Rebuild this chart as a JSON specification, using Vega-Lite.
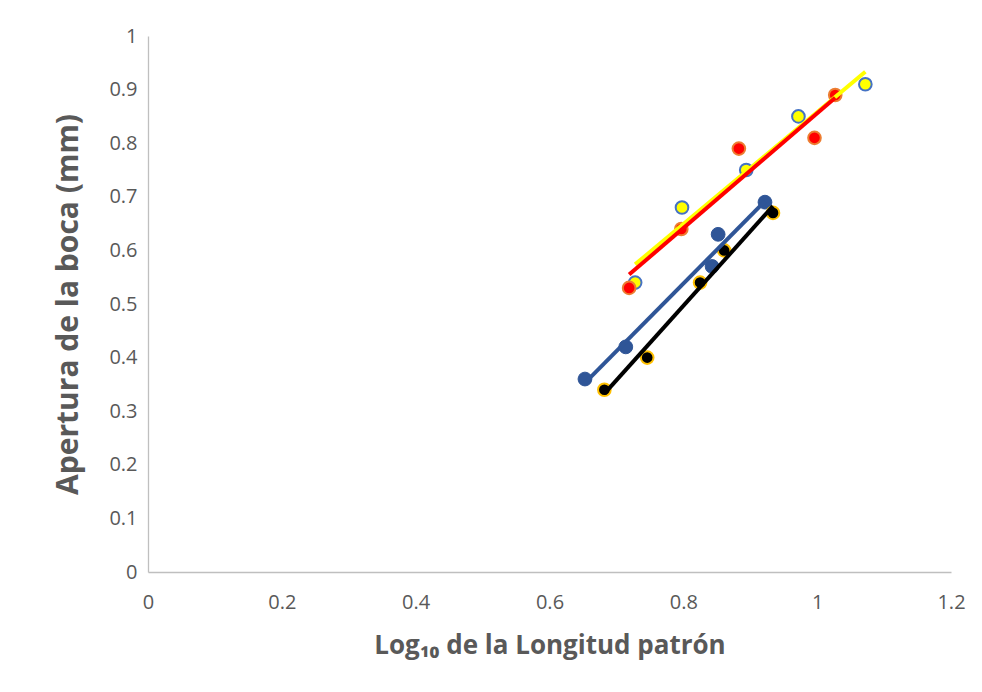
{
  "$schema": "https://vega.github.io/schema/vega-lite/v6.json",
  "width": 803,
  "height": 536,
  "autosize": {"type": "none"},
  "padding": {"left": 148, "top": 36, "right": 31, "bottom": 120},
  "background": "white",
  "config": {
    "view": {"stroke": null},
    "font": "Open Sans",
    "axis": {
      "grid": false,
      "ticks": false,
      "labelFlush": false,
      "domainColor": "#BFBFBF",
      "domainWidth": 1.3,
      "labelColor": "#595959",
      "labelFont": "Open Sans",
      "labelFontSize": 20,
      "format": "~g",
      "titleColor": "#595959",
      "titleFont": "Open Sans",
      "titleFontWeight": "bold"
    }
  },
  "datasets": {
    "medidas": [
      {"serie": "A", "log_lp": 0.653, "apertura": 0.36},
      {"serie": "A", "log_lp": 0.714, "apertura": 0.42},
      {"serie": "A", "log_lp": 0.843, "apertura": 0.57},
      {"serie": "A", "log_lp": 0.852, "apertura": 0.63},
      {"serie": "A", "log_lp": 0.922, "apertura": 0.69},
      {"serie": "B", "log_lp": 0.682, "apertura": 0.34},
      {"serie": "B", "log_lp": 0.746, "apertura": 0.40},
      {"serie": "B", "log_lp": 0.825, "apertura": 0.54},
      {"serie": "B", "log_lp": 0.861, "apertura": 0.60},
      {"serie": "B", "log_lp": 0.934, "apertura": 0.67},
      {"serie": "C", "log_lp": 0.719, "apertura": 0.53},
      {"serie": "C", "log_lp": 0.797, "apertura": 0.64},
      {"serie": "C", "log_lp": 0.883, "apertura": 0.79},
      {"serie": "C", "log_lp": 0.996, "apertura": 0.81},
      {"serie": "C", "log_lp": 1.027, "apertura": 0.89},
      {"serie": "D", "log_lp": 0.728, "apertura": 0.54},
      {"serie": "D", "log_lp": 0.798, "apertura": 0.68},
      {"serie": "D", "log_lp": 0.894, "apertura": 0.75},
      {"serie": "D", "log_lp": 0.972, "apertura": 0.85},
      {"serie": "D", "log_lp": 1.072, "apertura": 0.91}
    ]
  },
  "data": {"name": "medidas"},
  "encoding": {
    "x": {
      "field": "log_lp",
      "type": "quantitative",
      "scale": {"domain": [0, 1.2], "nice": false, "zero": false},
      "axis": {
        "values": [0, 0.2, 0.4, 0.6, 0.8, 1, 1.2],
        "format": "~g",
        "labelFlush": false,
        "labelPadding": 20,
        "title": "Log₁₀ de la Longitud patrón",
        "titleFontSize": 26,
        "titlePadding": 20
      }
    },
    "y": {
      "field": "apertura",
      "type": "quantitative",
      "scale": {"domain": [0, 1], "nice": false},
      "axis": {
        "values": [0, 0.1, 0.2, 0.3, 0.4, 0.5, 0.6, 0.7, 0.8, 0.9, 1],
        "format": "~g",
        "labelFlush": false,
        "labelPadding": 11,
        "title": "Apertura de la boca (mm)",
        "titleFontSize": 30,
        "titlePadding": 25
      }
    }
  },
  "layer": [
    {
      "transform": [{"filter": "datum.serie == 'A'"}],
      "mark": {"type": "point", "filled": true, "shape": "circle", "size": 190, "fill": "#2F5597", "stroke": "#2F5597", "strokeWidth": 1, "opacity": 1}
    },
    {
      "transform": [{"filter": "datum.serie == 'B'"}],
      "mark": {"type": "point", "filled": true, "shape": "circle", "size": 160, "fill": "#000000", "stroke": "#FFC000", "strokeWidth": 2, "opacity": 1}
    },
    {
      "transform": [{"filter": "datum.serie == 'D'"}],
      "mark": {"type": "point", "filled": true, "shape": "circle", "size": 160, "fill": "#FFFF00", "stroke": "#4472C4", "strokeWidth": 2, "opacity": 1}
    },
    {
      "transform": [{"filter": "datum.serie == 'C'"}],
      "mark": {"type": "point", "filled": true, "shape": "circle", "size": 160, "fill": "#FF0000", "stroke": "#ED7D31", "strokeWidth": 2, "opacity": 1}
    },
    {
      "transform": [
        {"filter": "datum.serie == 'A'"},
        {"regression": "apertura", "on": "log_lp"}
      ],
      "mark": {"type": "line", "color": "#2F5597", "strokeWidth": 4}
    },
    {
      "transform": [
        {"filter": "datum.serie == 'B'"},
        {"regression": "apertura", "on": "log_lp"}
      ],
      "mark": {"type": "line", "color": "#000000", "strokeWidth": 4}
    },
    {
      "transform": [
        {"filter": "datum.serie == 'D'"},
        {"regression": "apertura", "on": "log_lp"}
      ],
      "mark": {"type": "line", "color": "#FFFF00", "strokeWidth": 4}
    },
    {
      "transform": [
        {"filter": "datum.serie == 'C'"},
        {"regression": "apertura", "on": "log_lp"}
      ],
      "mark": {"type": "line", "color": "#FF0000", "strokeWidth": 4}
    }
  ]
}
